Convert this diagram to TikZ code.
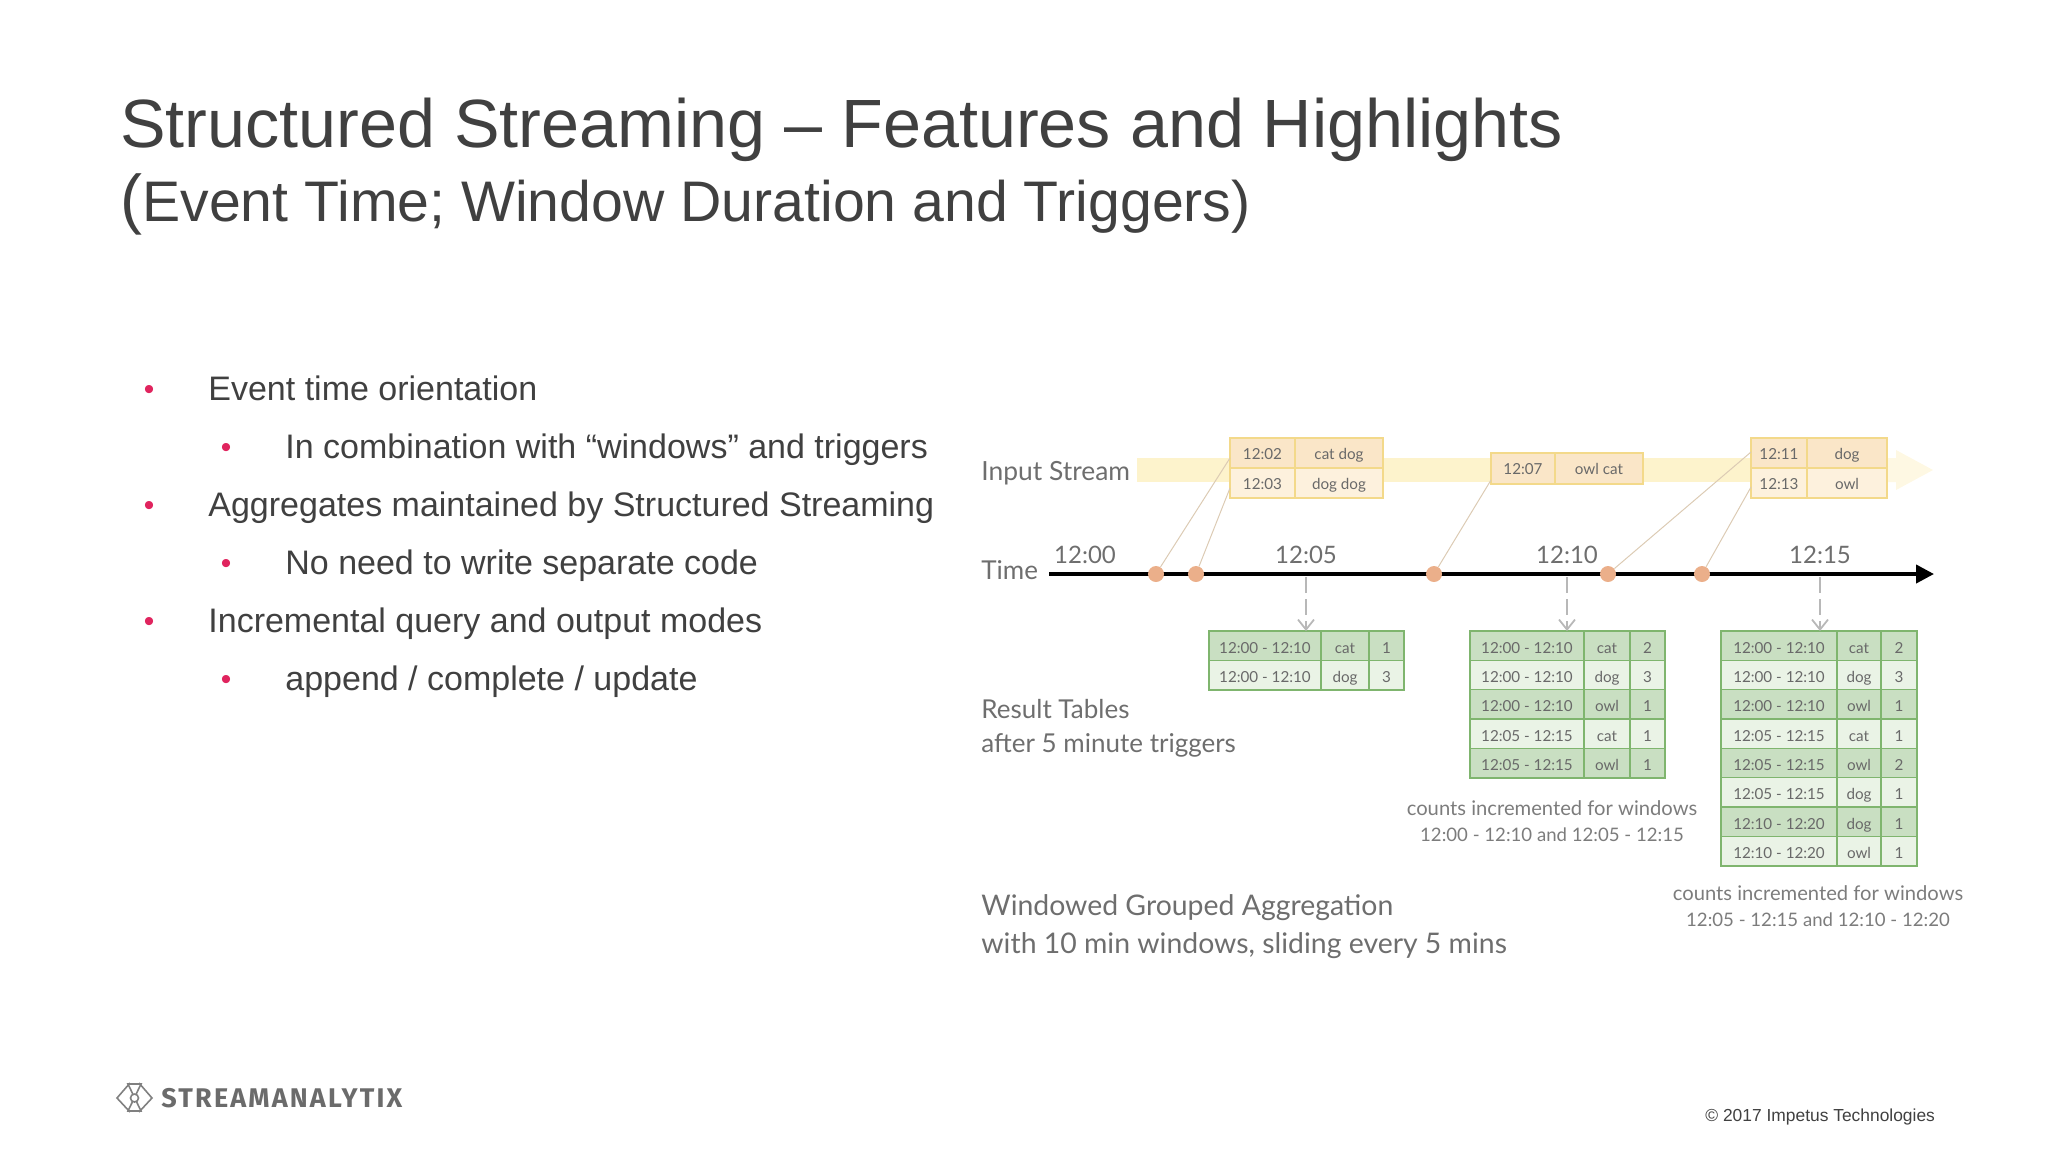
\documentclass[tikz,border=0pt]{standalone}
\usepackage{fontspec}
\setmainfont{Liberation Sans}
\newfontfamily\figfont{Lato}
\newfontfamily\logofont{Fira Sans}[LetterSpace=8]
\usetikzlibrary{arrows.meta}
\definecolor{slideText}{HTML}{404040}
\definecolor{figText}{HTML}{6E6E6E}
\definecolor{bulletRed}{HTML}{E0245E}
\definecolor{bandFill}{HTML}{FDF3CC}
\definecolor{inLine}{HTML}{F3D98A}
\definecolor{inDark}{HTML}{FAE6C8}
\definecolor{inPale}{HTML}{FDF1DD}
\definecolor{resLine}{HTML}{7FB56E}
\definecolor{resDark}{HTML}{C9DFC2}
\definecolor{resPale}{HTML}{EAF3E6}
\definecolor{dotFill}{HTML}{EBAF8A}
\definecolor{linkLine}{HTML}{DCCBB4}
\tikzset{
  body text/.style={anchor=base west,inner sep=0pt,text=slideText,font=\fontsize{17}{20}\selectfont},
  body dot/.style={anchor=base,inner sep=0pt,text=bulletRed,font=\fontsize{15}{18}\selectfont},
  fig label/.style={anchor=base west,inner sep=0pt,text=figText,font=\figfont\fontsize{13}{16}\selectfont},
  tick label/.style={anchor=base,inner sep=0pt,text=figText,font=\figfont\fontsize{12}{15}\selectfont},
  note label/.style={anchor=base,inner sep=0pt,text=figText!90,font=\figfont\fontsize{9.3}{12}\selectfont},
  cell/.style={anchor=base,inner sep=0pt,text=figText!95!black,font=\figfont\fontsize{7.6}{9}\selectfont},
  in box/.style={draw=inLine,line width=0.8pt,anchor=north west,inner sep=0pt,outer sep=0pt},
  res box/.style={draw=resLine,line width=1.2pt,anchor=north west,inner sep=0pt,outer sep=0pt},
  res rule/.style={draw=resLine,line width=0.6pt},
  res sep/.style={draw=resLine,line width=1.2pt},
  event/.style={circle,fill=dotFill,minimum size=8pt,inner sep=0pt},
  link/.style={draw=linkLine,line width=0.5pt},
  trigger/.style={draw=black!28,line width=0.9pt,dash pattern=on 8pt off 3pt,-{Straight Barb[length=5pt,width=8pt]}},
  logo line/.style={draw=black!50,line width=0.8pt},
}
% input table: name, x left, x col, x right, y top, row height, rows
\newcommand{\inputtable}[7]{
  \foreach \tm/\ws[count=\i from 0] in {#7}{
    \ifodd\i\def\rowcol{inPale}\else\def\rowcol{inDark}\fi
    \pgfmathsetmacro\ry{#5+\i*#6}
    \fill[fill=\rowcol] (#2,\ry) rectangle (#4,\ry+#6);
    \draw[draw=inLine,line width=0.6pt] (#2,\ry) -- (#4,\ry);
    \node[cell] (#1t\i) at ({(#2+#3)/2},\ry+21) {\tm};
    \node[cell] (#1w\i) at ({(#3+#4)/2},\ry+21) {\ws};
  }
  \draw[draw=inLine,line width=0.8pt] (#3,#5) -- ++(0,{#6*\inputrows});
}
% result table: name, x left, x col, x col, x right, rows count, rows
\newcommand{\restable}[7]{
  \foreach \win/\key/\num[count=\i from 0] in {#7}{
    \ifodd\i\def\rowcol{resPale}\else\def\rowcol{resDark}\fi
    \pgfmathsetmacro\ry{631+\i*29.35}
    \fill[fill=\rowcol] (#2,\ry) rectangle (#5,\ry+29.35);
    \draw[res rule] (#2,\ry) -- (#5,\ry);
    \node[cell] (#1w\i) at ({(#2+#3)/2},\ry+22) {\win};
    \node[cell] (#1k\i) at ({(#3+#4)/2},\ry+22) {\key};
    \node[cell] (#1n\i) at ({(#4+#5)/2},\ry+22) {\num};
  }
  \draw[res rule] (#3,631) -- ++(0,{#6*29.35});
  \draw[res rule] (#4,631) -- ++(0,{#6*29.35});
  \node[res box,minimum width={(#5-#2)*0.5pt},minimum height={#6*29.35*0.5pt}] (#1) at (#2,631) {};
}
\begin{document}
\begin{tikzpicture}[x=0.5pt,y=-0.5pt]
\useasboundingbox (0,0) rectangle (2048,1152);
% title
\node[anchor=base west,inner sep=0pt,text=slideText,font=\fontsize{34.15}{40}\selectfont] (title) at (120,147) {Structured Streaming -- Features and Highlights};
\node[anchor=base west,inner sep=0pt,text=slideText,font=\fontsize{28.6}{34}\selectfont] (subtitle) at (120,221) {{\fontsize{33}{40}\selectfont(}Event Time; Window Duration and Triggers)};
% bullets
\foreach \dx/\tx/\by/\txt[count=\n] in {
  149/208/400/{Event time orientation},
  226/285/458/{In combination with “windows” and triggers},
  149/208/516/{Aggregates maintained by Structured Streaming},
  226/285/574/{No need to write separate code},
  149/208/632/{Incremental query and output modes},
  226/285/690/{append / complete / update}}{
  \node[body dot] (dot\n) at (\dx,\by-1) {•};
  \node[body text] (item\n) at (\tx,\by) {\txt};
}
% stream band
\fill[bandFill] (1137,458) -- (1890,458) -- (1890,482) -- (1137,482) -- cycle;
\fill[bandFill!55] (1887,458) -- (1896,458) -- (1896,450) -- (1933,470) -- (1896,490) -- (1896,482) -- (1887,482) -- cycle;
\def\inputrows{2}
\inputtable{inA}{1230}{1295}{1383}{438}{30}{12:02/cat dog,12:03/dog dog}
\node[in box,minimum width=76.5pt,minimum height=30pt] (inA) at (1230,438) {};
\def\inputrows{1}
\inputtable{inB}{1491}{1555}{1643}{453}{31}{12:07/owl cat}
\node[in box,minimum width=76pt,minimum height=15.5pt] (inB) at (1491,453) {};
\def\inputrows{2}
\inputtable{inC}{1751}{1807}{1887}{438}{30}{12:11/dog,12:13/owl}
\node[in box,minimum width=68pt,minimum height=30pt] (inC) at (1751,438) {};
% row labels
\node[fig label,font=\figfont\fontsize{13.2}{16}\selectfont] (lbInput) at (981,480) {Input Stream};
\node[fig label] (lbTime) at (981,579) {Time};
\node[fig label] (lbRes) at (981,718) {Result Tables};
\node[fig label] (lbTrig) at (981,752) {after 5 minute triggers};
\node[fig label,font=\figfont\fontsize{14.2}{18}\selectfont] (lbWin) at (981,915) {Windowed Grouped Aggregation};
\node[fig label,font=\figfont\fontsize{14.2}{18}\selectfont] (lbSlide) at (981,953) {with 10 min windows, sliding every 5 mins};
% time axis
\coordinate (axisL) at (1049,574);
\coordinate (axisR) at (1934,574);
\draw[line width=2pt,-{Triangle[length=9pt,width=9pt]}] (axisL) -- (axisR);
\foreach \x/\lab[count=\n] in {1085/12:00,1306/12:05,1567/12:10,1820/12:15}{
  \node[tick label] (clock\n) at (\x,563) {\lab};
}
\foreach \x[count=\n] in {1156,1196,1434,1608,1702}{
  \node[event] (ev\n) at (\x,574) {};
}
\coordinate (inAa) at (1230,458);
\coordinate (inAb) at (1230,488);
\coordinate (inBa) at (1491,480);
\coordinate (inCa) at (1751,452);
\coordinate (inCb) at (1751,487);
\draw[link] (ev1) -- (inAa);
\draw[link] (ev2) -- (inAb);
\draw[link] (ev3) -- (inBa);
\draw[link] (ev4) -- (inCa);
\draw[link] (ev5) -- (inCb);
% result tables
\restable{resA}{1209}{1321}{1369}{1404}{2}{12:00 - 12:10/cat/1,12:00 - 12:10/dog/3}
\restable{resB}{1470}{1584}{1630}{1665}{5}{12:00 - 12:10/cat/2,12:00 - 12:10/dog/3,12:00 - 12:10/owl/1,12:05 - 12:15/cat/1,12:05 - 12:15/owl/1}
\restable{resC}{1721}{1837}{1881}{1917}{8}{12:00 - 12:10/cat/2,12:00 - 12:10/dog/3,12:00 - 12:10/owl/1,12:05 - 12:15/cat/1,12:05 - 12:15/owl/2,12:05 - 12:15/dog/1,12:10 - 12:20/dog/1,12:10 - 12:20/owl/1}
\draw[res sep] (1470,719) -- (1665,719);
\draw[res sep] (1721,719) -- (1917,719);
\draw[res sep] (1721,807) -- (1917,807);
% triggers
\coordinate (trigA) at (1306,577);
\coordinate (trigB) at (1567,577);
\coordinate (trigC) at (1820,577);
\draw[trigger] (trigA) -- (trigA |- resA.north);
\draw[trigger] (trigB) -- (trigB |- resB.north);
\draw[trigger] (trigC) -- (trigC |- resC.north);
% notes
\node[note label,font=\figfont\fontsize{10.1}{12}\selectfont] (noteAa) at (1552,815) {counts incremented for windows};
\node[note label] (noteAb) at (1552,841) {12:00 - 12:10 and 12:05 - 12:15};
\node[note label,font=\figfont\fontsize{10.1}{12}\selectfont] (noteBa) at (1818,900) {counts incremented for windows};
\node[note label] (noteBb) at (1818,926) {12:05 - 12:15 and 12:10 - 12:20};
% logo
\draw[logo line] (130,1083) -- (117,1098) -- (130,1112);
\draw[logo line] (139,1083) -- (152,1098) -- (139,1112);
\draw[logo line] (128,1084) -- (141,1084) -- (128,1111) -- (141,1111) -- cycle;
\node[circle,draw=black!50,fill=white,line width=0.8pt,minimum size=4pt,inner sep=0pt] (logoHub) at (134.5,1098) {};
\node[anchor=base west,inner sep=0pt,text=black!58,font=\logofont\bfseries\fontsize{13.5}{16}\selectfont] (logoText) at (161,1107) {STREAMANALYTIX};
% footer
\node[anchor=base west,inner sep=0pt,text=slideText,font=\fontsize{8.7}{10}\selectfont] (copy) at (1705,1121) {© 2017 Impetus Technologies};
\end{tikzpicture}
\end{document}
